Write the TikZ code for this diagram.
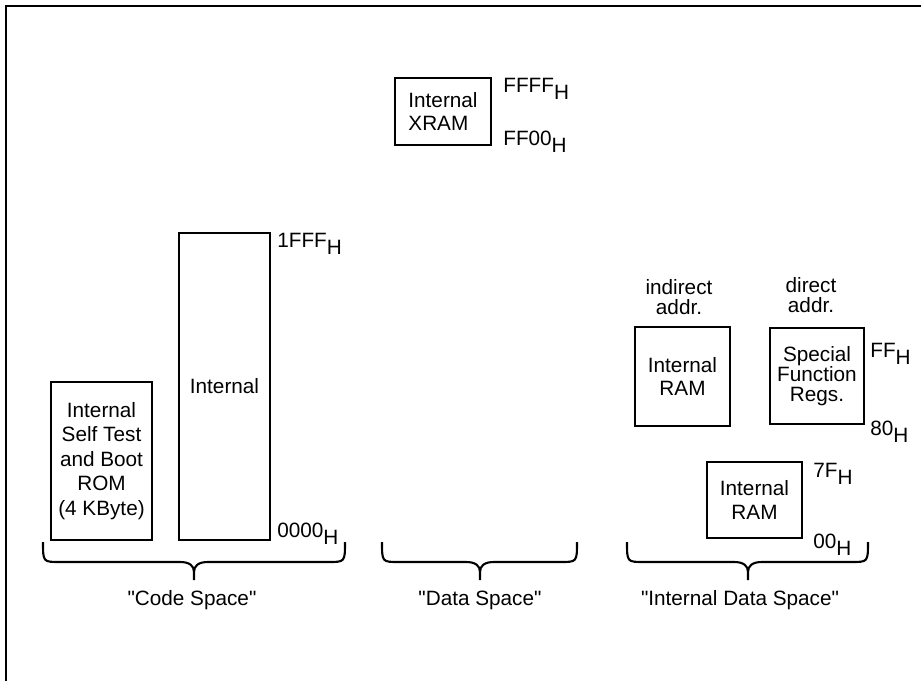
\documentclass[tikz,border=0pt]{standalone}
\usepackage{fontspec}
\newfontfamily\arial{Liberation Sans}
\newcommand{\hx}[1]{#1\raisebox{-4.5pt}{H}}

\begin{document}
\begin{tikzpicture}[x=0.02cm,y=-0.02cm,
  font=\arial\fontsize{11.8}{13.5}\selectfont,
  mem/.style={draw,line width=.75pt,inner sep=0pt,align=center},
  adr/.style={anchor=base west,inner sep=0pt},
  brace/.style={line width=1.2pt,line join=round}]
\useasboundingbox(0,0) rectangle (921,681);
\draw[line width=.6pt](921,6)--(6,6)--(6,681);

% code space
\begin{scope}
\node[mem,minimum width=2.02cm,minimum height=3.16cm,font=\arial\fontsize{11.8}{13.9}\selectfont](rom) at (101.5,461){Internal\\Self Test\\and Boot\\ROM\\(4 KByte)};
\node[mem,minimum width=1.82cm,minimum height=6.14cm](cint) at (224.5,386.5){Internal};
\node[adr](c1) at (277,247){\hx{1FFF}};
\node[adr](c0) at (277,537){\hx{0000}};
\draw[brace](43,542)..controls(43,562)and(43,562)..(60,562)--(180,562)..controls(190,562)and(194,566)..(194,572)--(194,580)
  (194,572)..controls(194,566)and(198,562)..(208,562)--(328,562)..controls(345,562)and(345,562)..(345,542);
\node[anchor=base](csp) at (192,605){"Code Space"};
\end{scope}

% data space
\begin{scope}
\node[mem,minimum width=1.92cm,minimum height=1.34cm,align=left](xram) at (443,111.5){Internal\\XRAM};
\node[adr](d1) at (503,92){\hx{FFFF}};
\node[adr](d0) at (503,145){\hx{FF00}};
\draw[brace](382,542)..controls(382,562)and(382,562)..(399,562)--(466,562)..controls(476,562)and(480,566)..(480,572)--(480,580)
  (480,572)..controls(480,566)and(484,562)..(494,562)--(560,562)..controls(577,562)and(577,562)..(577,542);
\node[anchor=base](dsp) at (480,605){"Data Space"};
\end{scope}

% internal data space
\begin{scope}
\node[align=center,inner sep=0pt,font=\arial\fontsize{11.8}{11.8}\selectfont](ind) at (679,297){indirect\\addr.};
\node[align=center,inner sep=0pt,font=\arial\fontsize{11.8}{11.8}\selectfont](dir) at (811,295){direct\\addr.};
\node[mem,minimum width=1.90cm,minimum height=1.98cm](iram) at (682.5,376.5){Internal\\RAM};
\node[mem,minimum width=1.88cm,minimum height=1.92cm,font=\arial\fontsize{11.8}{11.5}\selectfont](sfr) at (817,376){Special\\Function\\Regs.};
\node[adr](s1) at (870,357){\hx{FF}};
\node[adr](s0) at (870,435){\hx{80}};
\node[mem,minimum width=1.90cm,minimum height=1.52cm](ram) at (754.5,500){Internal\\RAM};
\node[adr](r1) at (813,477){\hx{7F}};
\node[adr](r0) at (813,548){\hx{00}};
\draw[brace](627,542)..controls(627,562)and(627,562)..(644,562)--(734,562)..controls(744,562)and(748,566)..(748,572)--(748,580)
  (748,572)..controls(748,566)and(752,562)..(762,562)--(851,562)..controls(868,562)and(868,562)..(868,542);
\node[anchor=base](isp) at (740,605){"Internal Data Space"};
\end{scope}
\end{tikzpicture}
\end{document}
